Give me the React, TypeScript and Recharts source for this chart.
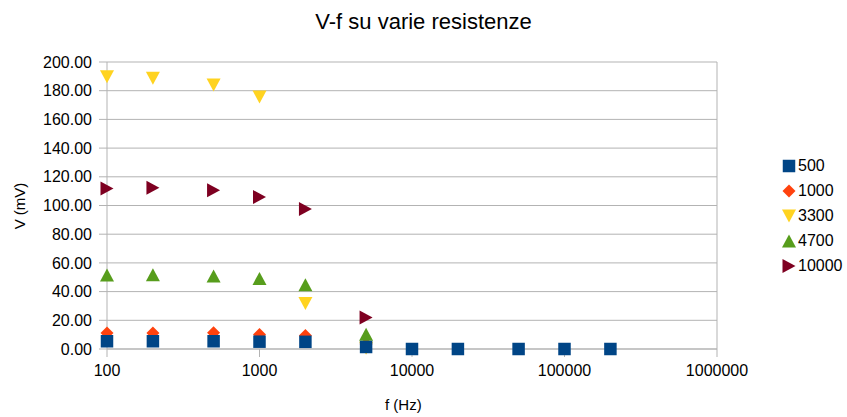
import React from "react";
import { ScatterChart, Scatter, XAxis, YAxis, CartesianGrid, ReferenceLine } from "recharts";

const freqs = [100, 200, 500, 1000, 2000, 5000, 10000, 20000, 50000, 100000, 200000];
const v500 = [5.4, 5.4, 5.4, 5.1, 5.0, 1.4, 0, 0, 0, 0, 0];
const v1000 = [11.2, 11.2, 11.4, 10.1, 9.4, 3.5];
const v3300 = [189.8, 188.6, 184.0, 175.6, 31.7, 0.5];
const v4700 = [51.5, 51.8, 50.8, 49.2, 44.8, 10.3];
const v10000 = [111.8, 112.3, 110.7, 105.9, 97.6, 21.9];
const xTicks = [100, 1000, 10000, 100000, 1000000];
const yTicks = [0, 20, 40, 60, 80, 100, 120, 140, 160, 180, 200];

const toPts = (vals: number[]) => vals.map((v, i) => ({ f: freqs[i], v }));

type Kind = "square" | "diamond" | "down" | "up" | "right";

const seriesDefs: { name: string; vals: number[]; color: string; kind: Kind }[] = [
  { name: "500", vals: v500, color: "#004586", kind: "square" },
  { name: "1000", vals: v1000, color: "#ff420e", kind: "diamond" },
  { name: "3300", vals: v3300, color: "#ffd320", kind: "down" },
  { name: "4700", vals: v4700, color: "#579d1c", kind: "up" },
  { name: "10000", vals: v10000, color: "#7e0021", kind: "right" },
];

const markerPath = (kind: Kind, cx: number, cy: number) => {
  switch (kind) {
    case "square":
      return `M${cx - 6.25},${cy - 6.25}h12.5v12.5h-12.5Z`;
    case "diamond":
      return `M${cx},${cy - 6.5}L${cx + 6.5},${cy}L${cx},${cy + 6.5}L${cx - 6.5},${cy}Z`;
    case "down":
      return `M${cx - 7},${cy - 6.5}L${cx + 7},${cy - 6.5}L${cx},${cy + 6.5}Z`;
    case "up":
      return `M${cx - 7},${cy + 6.5}L${cx + 7},${cy + 6.5}L${cx},${cy - 6.5}Z`;
    case "right":
      return `M${cx - 6.5},${cy - 7}L${cx + 6.5},${cy}L${cx - 6.5},${cy + 7}Z`;
  }
};

const makeShape = (kind: Kind, color: string) => (props: any) => {
  const { cx, cy } = props;
  if (cx == null || cy == null) return <g />;
  return <path d={markerPath(kind, cx, cy)} fill={color} />;
};

const drawOrder = ["1000", "3300", "4700", "10000", "500"];

export default function App() {
  const font = "'Liberation Sans', Arial, sans-serif";
  return (
    <div style={{ position: "absolute", left: 0, top: 0, width: 847, height: 417, background: "#fff", fontFamily: font }}>
      <div style={{ position: "absolute", left: 0, width: 847, top: 8, textAlign: "center", fontSize: 22, color: "#000", lineHeight: "28px" }}>
        V-f su varie resistenze
      </div>
      <ScatterChart width={847} height={417} margin={{ top: 62, right: 130, bottom: 38, left: 0 }}>
        <CartesianGrid horizontal={true} vertical={false} stroke="#b3b3b3" />
        <ReferenceLine x={1000000} stroke="#b3b3b3" />
        <XAxis
          type="number"
          dataKey="f"
          scale="log"
          domain={[100, 1000000]}
          ticks={xTicks}
          height={30}
          axisLine={{ stroke: "#b3b3b3" }}
          tickLine={{ stroke: "#b3b3b3" }}
          tickSize={8}
          tickMargin={8}
          tick={{ fill: "#000", fontSize: 16, fontFamily: font }}
        />
        <YAxis
          type="number"
          dataKey="v"
          domain={[0, 200]}
          ticks={yTicks}
          width={107}
          axisLine={{ stroke: "#b3b3b3" }}
          tickLine={{ stroke: "#b3b3b3" }}
          tickSize={8}
          tickMargin={7}
          tickFormatter={(v: number) => v.toFixed(2)}
          tick={{ fill: "#000", fontSize: 16, fontFamily: font }}
        />
        {drawOrder.map((n) => {
          const s = seriesDefs.find((d) => d.name === n)!;
          return (
            <Scatter
              key={s.name}
              name={s.name}
              data={toPts(s.vals)}
              fill={s.color}
              shape={makeShape(s.kind, s.color)}
              isAnimationActive={false}
            />
          );
        })}
      </ScatterChart>
      <div style={{ position: "absolute", left: 385, top: 396, fontSize: 15, color: "#000", lineHeight: "18px", whiteSpace: "nowrap" }}>f (Hz)</div>
      <div
        style={{
          position: "absolute",
          left: 20,
          top: 206,
          fontSize: 15,
          color: "#000",
          lineHeight: "18px",
          whiteSpace: "nowrap",
          transform: "translate(-50%, -50%) rotate(-90deg)",
        }}
      >
        V (mV)
      </div>
      <div style={{ position: "absolute", left: 782, top: 153 }}>
        {seriesDefs.map((s) => (
          <div key={s.name} style={{ display: "flex", alignItems: "center", height: 25, fontSize: 16, color: "#000" }}>
            <svg width={14} height={16} style={{ marginRight: 2 }}>
              <path d={markerPath(s.kind, 7, 8)} fill={s.color} />
            </svg>
            <span>{s.name}</span>
          </div>
        ))}
      </div>
    </div>
  );
}
